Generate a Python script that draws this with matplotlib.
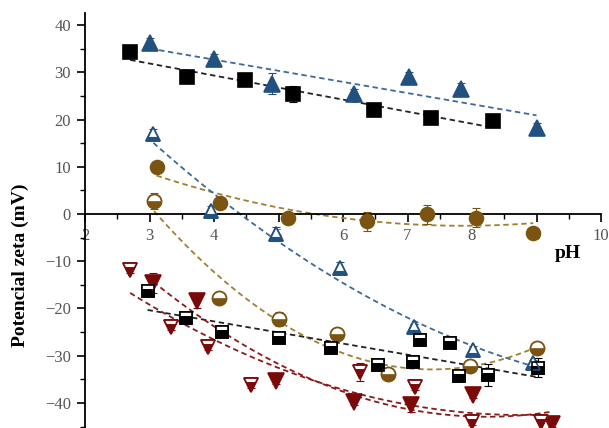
import numpy as np
import matplotlib
matplotlib.use("Agg")
import matplotlib.pyplot as plt
from matplotlib.ticker import MultipleLocator
from matplotlib.path import Path

plt.rcParams['font.family'] = ['Liberation Serif', 'DejaVu Serif']

# upper series (filled markers)
sq_x = [2.70, 3.58, 4.48, 5.22, 6.48, 7.37, 8.33]
sq_y = [34.3, 29.1, 28.3, 25.5, 22.1, 20.4, 19.6]
sq_e = [0.5, 0.6, 0.5, 1.7, 0.5, 0.5, 0.5]

tri_x = [3.01, 4.00, 4.90, 6.17, 7.02, 7.83, 9.00]
tri_y = [36.1, 32.9, 27.6, 25.5, 29.1, 26.5, 18.2]
tri_e = [1.2, 1.0, 2.3, 1.0, 1.0, 1.3, 1.0]

circ_x = [3.11, 4.10, 5.15, 6.37, 7.31, 8.06, 8.95]
circ_y = [9.9, 2.4, -0.8, -1.5, -0.1, -0.8, -4.0]
circ_e = [0.8, 0.8, 0.8, 2.0, 2.1, 2.0, 0.8]

# lower series (half-filled markers)
otri_x = [3.06, 3.95, 4.96, 5.95, 7.10, 8.01, 8.94]
otri_y = [17.0, 0.6, -4.3, -11.4, -24.0, -28.8, -31.6]
otri_e = [1.0, 1.2, 1.5, 1.2, 0.8, 0.8, 0.8]

hcirc_x = [3.07, 4.07, 5.01, 5.90, 6.70, 7.97, 9.00]
hcirc_y = [2.8, -17.7, -22.2, -25.3, -33.8, -32.1, -28.4]
hcirc_e = [1.7, 0.8, 1.5, 0.8, 0.8, 0.8, 0.8]

hsq_x = [2.97, 3.56, 4.12, 5.00, 5.82, 6.55, 7.09, 7.20, 7.66, 7.80, 8.25, 9.02]
hsq_y = [-16.4, -22.1, -24.9, -26.3, -28.4, -31.9, -31.3, -26.7, -27.4, -34.3, -34.1, -32.5]
hsq_e = [0.8, 0.8, 0.8, 0.6, 0.6, 0.6, 0.6, 0.6, 0.6, 0.6, 2.3, 2.0]

rf_x = [3.06, 3.73, 4.96, 6.17, 7.06, 8.01, 9.24]
rf_y = [-14.6, -18.5, -35.4, -39.8, -40.5, -38.4, -44.4]
rf_e = [2.2, 1.5, 0.6, 0.6, 1.5, 0.6, 0.6]

ro_x = [2.70, 3.33, 3.91, 4.58, 6.26, 7.12, 8.00, 9.07]
ro_y = [-11.8, -24.0, -28.1, -36.2, -33.4, -36.6, -44.0, -44.0]
ro_e = [0.6, 0.6, 0.6, 0.6, 1.9, 0.6, 0.6, 1.2]

BLACK = '#000000'
BLUE = '#22507f'
BROWN = '#7b5412'
RED = '#7a0a0a'

# white top bands for the half-open markers (same unit frame as the built-in markers)
band_sq = Path([(-1, 1), (1, 1), (1, 0.35), (-1, 0.35), (-1, 1)])
band_v = Path([(-1, 1), (1, 1), (0.75, 0.5), (-0.75, 0.5), (-1, 1)])
band_up = Path([(0, 1), (0.68, -0.35), (-0.68, -0.35), (0, 1)])
a = np.linspace(np.arcsin(0.05), np.pi - np.arcsin(0.05), 30)
band_o = Path(np.column_stack([np.cos(a), np.sin(a)]))

fig = plt.figure(figsize=(6.09, 4.28), dpi=100)
ax = fig.add_axes([85 / 609, 0.0, 516 / 609, (428 - 13.25) / 428])
ax.set_xlim(2, 10)
ax.set_ylim(-45.3, 42.5)


def fit_line(x, y, deg, color):
    c = np.polyfit(x, y, deg)
    xs = np.linspace(min(x), max(x), 100)
    ax.plot(xs, np.polyval(c, xs), ls=(0, (3, 2)), lw=1.3, color=color, zorder=2)


def series(x, y, e, marker, color, ms, band=None):
    ax.errorbar(x, y, yerr=e, fmt='none', ecolor=color, elinewidth=0.8,
                capsize=3, capthick=0.8, zorder=3)
    ax.plot(x, y, ls='none', marker=marker, ms=ms, color=color,
            mec=color, mew=1.2, zorder=4)
    if band is not None:
        ax.plot(x, y, ls='none', marker=band, ms=ms, mfc='white', mew=0, zorder=5)
        ax.plot(x, y, ls='none', marker=marker, ms=ms, mfc='none',
                mec=color, mew=1.2, zorder=6)


fit_line(sq_x, sq_y, 1, '#222222')
fit_line(tri_x, tri_y, 1, '#3d6a99')
fit_line(circ_x, circ_y, 2, '#a08030')
fit_line(otri_x, otri_y, 2, '#3d6a99')
fit_line(hcirc_x, hcirc_y, 2, '#a08030')
fit_line(hsq_x, hsq_y, 1, '#222222')
fit_line(rf_x, rf_y, 2, '#8b1a1a')
fit_line(ro_x, ro_y, 2, '#8b1a1a')

series(sq_x, sq_y, sq_e, 's', BLACK, 10)
series(tri_x, tri_y, tri_e, '^', BLUE, 11)
series(circ_x, circ_y, circ_e, 'o', BROWN, 10)
series(otri_x, otri_y, otri_e, '^', BLUE, 10, band_up)
series(hcirc_x, hcirc_y, hcirc_e, 'o', BROWN, 10, band_o)
series(hsq_x, hsq_y, hsq_e, 's', BLACK, 9, band_sq)
series(rf_x, rf_y, rf_e, 'v', RED, 11)
series(ro_x, ro_y, ro_e, 'v', RED, 10, band_v)

# axes styling
ax.spines['top'].set_visible(False)
ax.spines['right'].set_visible(False)
ax.spines['bottom'].set_position(('data', 0))
for s in ('left', 'bottom'):
    ax.spines[s].set_linewidth(1.3)

ax.xaxis.set_major_locator(MultipleLocator(1))
ax.xaxis.set_minor_locator(MultipleLocator(0.5))
ax.yaxis.set_major_locator(MultipleLocator(10))
ax.yaxis.set_minor_locator(MultipleLocator(5))
ax.tick_params(which='major', direction='out', length=6, width=1.2,
               labelsize=12, labelcolor='#555555', pad=4)
ax.tick_params(which='minor', direction='out', length=3.5, width=1.0)

fig.text(20 / 609, 1 - 265 / 428, 'Potencial zeta (mV)', rotation=90,
         ha='center', va='center', fontsize=14, fontweight='bold')
fig.text(568 / 609, 1 - 253 / 428, 'pH', ha='center', va='center',
         fontsize=14, fontweight='bold')

fig.savefig('out.png', dpi=100)
